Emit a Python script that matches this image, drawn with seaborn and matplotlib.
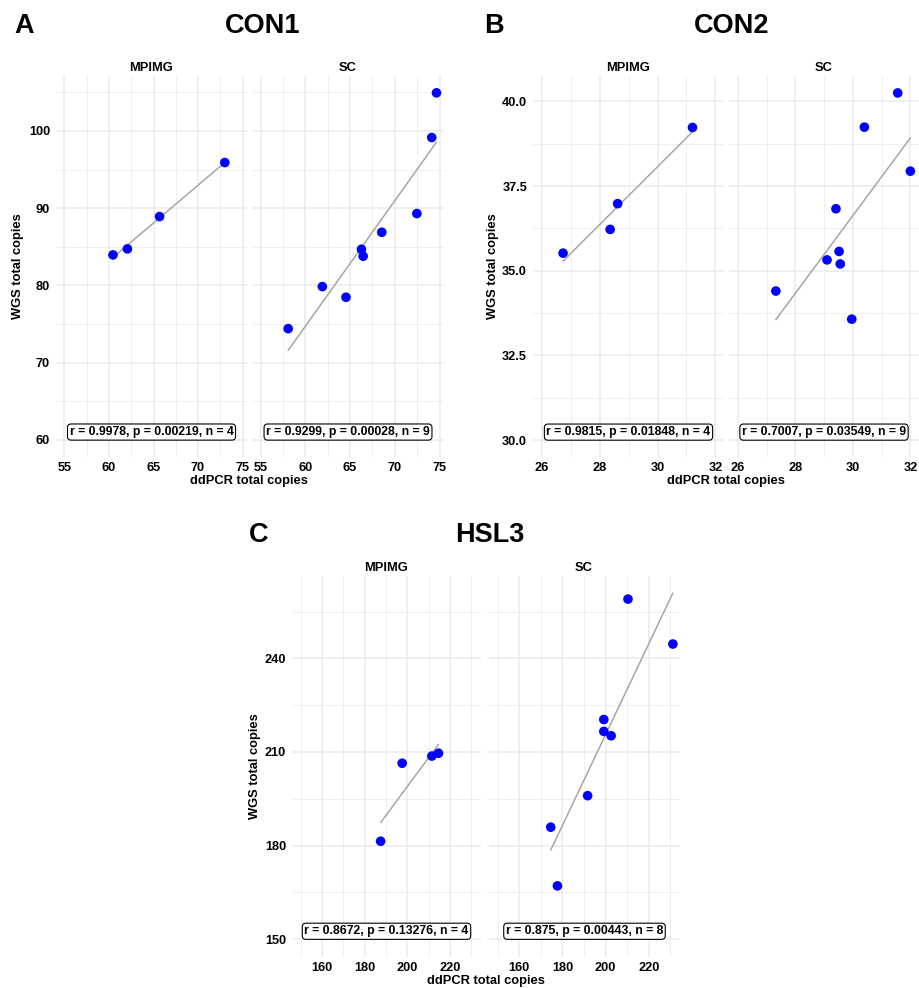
import numpy as np
import matplotlib
matplotlib.use("Agg")
import matplotlib.pyplot as plt
import seaborn as sns

# valeurs
con1_mpimg_x = [60.45, 62.07, 65.68, 73.01]
con1_mpimg_y = [83.95, 84.73, 88.91, 95.90]
con1_sc_x = [58.09, 61.91, 64.55, 66.28, 66.47, 68.55, 72.47, 74.13, 74.66]
con1_sc_y = [74.41, 79.85, 78.47, 84.68, 83.78, 86.88, 89.30, 99.14, 104.92]

con2_mpimg_x = [26.73, 28.36, 28.62, 31.21]
con2_mpimg_y = [35.52, 36.22, 36.98, 39.23]
con2_sc_x = [27.32, 29.10, 29.41, 29.52, 29.56, 29.96, 30.40, 31.56, 32.00]
con2_sc_y = [34.40, 35.32, 36.83, 35.57, 35.20, 33.57, 39.24, 40.25, 37.94]

hsl3_mpimg_x = [187.5, 197.6, 211.5, 214.6]
hsl3_mpimg_y = [181.4, 206.4, 208.7, 209.6]
hsl3_sc_x = [174.6, 177.7, 191.7, 199.2, 199.2, 202.6, 210.4, 231.2]
hsl3_sc_y = [185.9, 167.1, 196.0, 220.4, 216.6, 215.2, 259.0, 244.6]

labels_con1 = ["r = 0.9978, p = 0.00219, n = 4", "r = 0.9299, p = 0.00028, n = 9"]
labels_con2 = ["r = 0.9815, p = 0.01848, n = 4", "r = 0.7007, p = 0.03549, n = 9"]
labels_hsl3 = ["r = 0.8672, p = 0.13276, n = 4", "r = 0.875, p = 0.00443, n = 8"]

facettes = ["MPIMG", "SC"]

sns.set_theme(style="white")
plt.rcParams['font.family'] = ['Liberation Sans', 'DejaVu Sans']
plt.rcParams['font.weight'] = 'bold'
plt.rcParams['text.color'] = 'black'

W, H = 919, 988
fig = plt.figure(figsize=(W / 100, H / 100), dpi=100)
grille = '#EBEBEB'


def rect(g, d, h, b):
    return [g / W, 1 - b / H, (d - g) / W, (b - h) / H]


def txt(x, y, s, **kw):
    fig.text(x / W, 1 - y / H, s, fontweight='bold', color='black', **kw)


def panneau(pos, xs, ys, label, xlim, ylim, xmaj, xmin, ymaj, ymin, show_y):
    ax = fig.add_axes(pos)
    sns.regplot(x=np.array(xs), y=np.array(ys), ax=ax, scatter=False, ci=None,
                truncate=True, line_kws=dict(color='#A6A6A6', lw=1.1, zorder=2))
    sns.scatterplot(x=xs, y=ys, ax=ax, color='#0000FF', s=48, edgecolor='none',
                    zorder=3)
    ax.set_xticks(xmaj)
    ax.set_xticks(xmin, minor=True)
    ax.set_yticks(ymaj)
    ax.set_yticks(ymin, minor=True)
    ax.set_xlim(*xlim)
    ax.set_ylim(*ylim)
    ax.grid(which='major', color=grille, lw=1.1, zorder=0)
    ax.grid(which='minor', color=grille, lw=0.55, zorder=0)
    ax.set_axisbelow(True)
    for s in ax.spines.values():
        s.set_visible(False)
    ax.tick_params(which='both', length=0, labelsize=9.2, labelcolor='black')
    ax.tick_params(axis='x', pad=3.5)
    ax.tick_params(axis='y', pad=4.3)
    for t in ax.get_xticklabels() + ax.get_yticklabels():
        t.set_fontweight('bold')
    if not show_y:
        ax.set_yticklabels([])
    ax.set_xlabel('')
    ax.set_ylabel('')
    ax.annotate(label, xy=(0.5, ymaj[0]), xycoords=('axes fraction', 'data'),
                xytext=(0, 1.4), textcoords='offset points',
                ha='center', va='bottom', fontsize=8.8, fontweight='bold',
                color='black',
                bbox=dict(boxstyle='round,pad=0.17,rounding_size=0.3',
                          fc='white', ec='black', lw=0.8), zorder=4)
    return ax


# A - CON1
xa = (54.05, 75.5)
ya = (57.8, 107.1)
xa_maj = [55, 60, 65, 70, 75]
xa_min = [57.5, 62.5, 67.5, 72.5]
ya_maj = [60, 70, 80, 90, 100]
ya_min = [65, 75, 85, 95, 105]
panneau(rect(56, 247, 76, 457), con1_mpimg_x, con1_mpimg_y, labels_con1[0],
        xa, ya, xa_maj, xa_min, ya_maj, ya_min, True)
panneau(rect(252, 444, 76, 457), con1_sc_x, con1_sc_y, labels_con1[1],
        xa, ya, xa_maj, xa_min, ya_maj, ya_min, False)

# B - CON2
xb = (25.69, 32.3)
yb = (29.5, 40.75)
xb_maj = [26, 28, 30, 32]
xb_min = [27, 29, 31]
yb_maj = [30.0, 32.5, 35.0, 37.5, 40.0]
yb_min = [31.25, 33.75, 36.25, 38.75]
axb = panneau(rect(533, 724, 76, 457), con2_mpimg_x, con2_mpimg_y, labels_con2[0],
              xb, yb, xb_maj, xb_min, yb_maj, yb_min, True)
axb.set_yticklabels([f"{v:.1f}" for v in yb_maj])
panneau(rect(729, 919, 76, 457), con2_sc_x, con2_sc_y, labels_con2[1],
        xb, yb, xb_maj, xb_min, yb_maj, yb_min, False)

# C - HSL3
xc = (146.0, 234.5)
yc = (144.3, 266.4)
xc_maj = [160, 180, 200, 220]
xc_min = [150, 170, 190, 210, 230]
yc_maj = [150, 180, 210, 240]
yc_min = [165, 195, 225, 255]
panneau(rect(292, 481, 576, 957), hsl3_mpimg_x, hsl3_mpimg_y, labels_hsl3[0],
        xc, yc, xc_maj, xc_min, yc_maj, yc_min, True)
panneau(rect(489, 680, 576, 957), hsl3_sc_x, hsl3_sc_y, labels_hsl3[1],
        xc, yc, xc_maj, xc_min, yc_maj, yc_min, False)

# titres, bandeaux et axes
txt(14, 33, 'A', fontsize=19.5, ha='left', va='baseline')
txt(263, 33, 'CON1', fontsize=19.5, ha='center', va='baseline')
txt(484, 33, 'B', fontsize=19.5, ha='left', va='baseline')
txt(732, 33, 'CON2', fontsize=19.5, ha='center', va='baseline')
txt(249, 542, 'C', fontsize=19.5, ha='left', va='baseline')
txt(490, 542, 'HSL3', fontsize=19.5, ha='center', va='baseline')

strips = [(151, 70.7, facettes[0]), (348, 70.7, facettes[1]),
          (628, 70.7, facettes[0]), (824, 70.7, facettes[1]),
          (386, 570.7, facettes[0]), (584, 570.7, facettes[1])]
for cx, by, s in strips:
    txt(cx, by, s, fontsize=9.3, ha='center', va='baseline')

for cx, by in [(249, 484.3), (726, 484.3), (486, 984.3)]:
    txt(cx, by, 'ddPCR total copies', fontsize=9.3, ha='center', va='baseline')
for cx, cy in [(18.5, 266.5), (493, 266.5), (255, 766.5)]:
    txt(cx, cy, 'WGS total copies', fontsize=9.3, ha='center', va='center',
        rotation=90)

fig.savefig('out.png', dpi=100, facecolor='white')
